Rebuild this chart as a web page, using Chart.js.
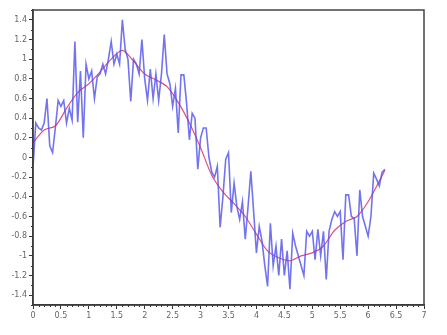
<!DOCTYPE html>
<html>
<head>
<meta charset="utf-8">
<script src="https://cdn.jsdelivr.net/npm/chart.js@4/dist/chart.umd.min.js"></script>
<style>
  html, body { margin: 0; padding: 0; background: #fff; }
  #wrap { width: 447px; height: 335px; }
</style>
</head>
<body>
<div id="wrap"><canvas id="plot"></canvas></div>
<script>
// noisy samples, x from 0 to 6.3 step 0.05
const noisyX = [
  0.00, 0.05, 0.10, 0.15, 0.20, 0.25, 0.30, 0.35, 0.40, 0.45,
  0.50, 0.55, 0.60, 0.65, 0.70, 0.75, 0.80, 0.85, 0.90, 0.95,
  1.00, 1.05, 1.10, 1.15, 1.20, 1.25, 1.30, 1.35, 1.40, 1.45,
  1.50, 1.55, 1.60, 1.65, 1.70, 1.75, 1.80, 1.85, 1.90, 1.95,
  2.00, 2.05, 2.10, 2.15, 2.20, 2.25, 2.30, 2.35, 2.40, 2.45,
  2.50, 2.55, 2.60, 2.65, 2.70, 2.75, 2.80, 2.85, 2.90, 2.95,
  3.00, 3.05, 3.10, 3.15, 3.20, 3.25, 3.30, 3.35, 3.40, 3.45,
  3.50, 3.55, 3.60, 3.65, 3.70, 3.75, 3.80, 3.85, 3.90, 3.95,
  4.00, 4.05, 4.10, 4.15, 4.20, 4.25, 4.30, 4.35, 4.40, 4.45,
  4.50, 4.55, 4.60, 4.65, 4.70, 4.75, 4.80, 4.85, 4.90, 4.95,
  5.00, 5.05, 5.10, 5.15, 5.20, 5.25, 5.30, 5.35, 5.40, 5.45,
  5.50, 5.55, 5.60, 5.65, 5.70, 5.75, 5.80, 5.85, 5.90, 5.95,
  6.00, 6.05, 6.10, 6.15, 6.20, 6.25, 6.30
];
const noisyY = [
  -0.10, 0.35, 0.30, 0.28, 0.35, 0.60, 0.12, 0.05, 0.30, 0.58,
  0.52, 0.58, 0.35, 0.50, 0.38, 1.18, 0.36, 0.88, 0.20, 0.95,
  0.80, 0.88, 0.60, 0.82, 0.85, 0.95, 0.85, 1.00, 1.18, 0.95,
  1.05, 0.95, 1.40, 1.10, 1.00, 0.57, 1.00, 0.95, 0.85, 1.20,
  0.80, 0.58, 0.90, 0.60, 0.85, 0.58, 0.85, 1.25, 0.85, 0.75,
  0.52, 0.70, 0.25, 0.84, 0.84, 0.55, 0.18, 0.45, 0.40, -0.12,
  0.20, 0.30, 0.30, 0.00, -0.15, -0.20, -0.09, -0.71, -0.40, -0.02,
  0.05, -0.56, -0.26, -0.50, -0.63, -0.45, -0.83, -0.50, -0.14, -0.55,
  -0.97, -0.70, -0.85, -1.10, -1.31, -0.67, -1.10, -0.90, -1.20, -0.83,
  -1.20, -0.95, -1.34, -0.77, -0.90, -1.00, -1.10, -1.20, -0.75, -0.80,
  -0.75, -1.04, -0.73, -1.00, -0.75, -1.24, -0.75, -0.63, -0.55, -0.60,
  -0.55, -1.04, -0.38, -0.38, -0.60, -0.62, -1.00, -0.33, -0.60, -0.70,
  -0.80, -0.60, -0.16, -0.22, -0.29, -0.15, -0.12
];

// smoothed curve
const smoothX = [0, 0.2, 0.4, 0.6, 0.8, 1.0, 1.2, 1.4, 1.6, 1.8, 2.0, 2.2, 2.4, 2.6, 2.8, 3.0, 3.2,
  3.4, 3.6, 3.8, 4.0, 4.2, 4.4, 4.6, 4.8, 5.0, 5.2, 5.4, 5.6, 5.8, 6.0, 6.2, 6.3];
const smoothY = [0.15, 0.28, 0.32, 0.50, 0.66, 0.75, 0.87, 1.00, 1.09, 0.98, 0.85, 0.79, 0.72, 0.56, 0.35, 0.10, -0.18,
  -0.35, -0.47, -0.60, -0.78, -0.95, -1.02, -1.05, -1.00, -0.97, -0.90, -0.74, -0.65, -0.60, -0.45, -0.24, -0.13];

const xTicks = [0, 0.5, 1, 1.5, 2, 2.5, 3, 3.5, 4, 4.5, 5, 5.5, 6, 6.5, 7];
const yTicks = [-1.4, -1.2, -1, -0.8, -0.6, -0.4, -0.2, 0, 0.2, 0.4, 0.6, 0.8, 1, 1.2, 1.4];

function pts(xs, ys) {
  return xs.map((x, i) => ({ x: x, y: ys[i] }));
}

function fmt(v) {
  const r = Math.round(v * 10) / 10;
  return String(r);
}

// frame + minor ticks
const framePlugin = {
  id: 'frame',
  afterDraw(chart) {
    const { ctx, chartArea: a, scales } = chart;
    ctx.save();
    ctx.strokeStyle = '#333';
    ctx.lineWidth = 1;
    ctx.beginPath();
    // minor y ticks
    for (let i = -15; i <= 15; i++) {
      const v = i / 10;
      if (Math.abs(i) % 2 === 0 && Math.abs(i) !== 15) continue;
      const py = Math.round(scales.y.getPixelForValue(v)) + 0.5;
      ctx.moveTo(a.left - 2, py);
      ctx.lineTo(a.left, py);
    }
    // minor x ticks
    for (let i = 0; i <= 70; i++) {
      if (i % 5 === 0) continue;
      const px = Math.round(scales.x.getPixelForValue(i / 10)) + 0.5;
      ctx.moveTo(px, a.bottom);
      ctx.lineTo(px, a.bottom + 2);
    }
    ctx.stroke();
    ctx.strokeStyle = '#444';
    ctx.lineWidth = 1.5;
    ctx.strokeRect(a.left, a.top, a.right - a.left, a.bottom - a.top);
    ctx.restore();
  }
};

new Chart(document.getElementById('plot'), {
  type: 'line',
  data: {
    datasets: [
      {
        data: pts(noisyX, noisyY),
        borderColor: 'rgba(80, 80, 235, 0.8)',
        borderWidth: 1.6,
        pointRadius: 0,
        tension: 0,
      },
      {
        data: pts(smoothX, smoothY),
        borderColor: '#e0507e',
        borderWidth: 1.2,
        pointRadius: 0,
        tension: 0.3,
      },
    ],
  },
  options: {
    responsive: true,
    maintainAspectRatio: false,
    animation: false,
    layout: { padding: { top: 10, right: 23, left: 0, bottom: 0 } },
    plugins: { legend: { display: false }, tooltip: { enabled: false } },
    scales: {
      x: {
        type: 'linear',
        min: 0,
        max: 7,
        afterBuildTicks: (s) => { s.ticks = xTicks.map((v) => ({ value: v })); },
        afterFit: (s) => { s.height = 30; },
        grid: { drawOnChartArea: false, tickLength: 4, color: '#333' },
        border: { color: '#222', width: 1.5 },
        ticks: { color: '#666', font: { family: 'DejaVu Sans', size: 8 }, padding: 2, maxRotation: 0, callback: (v) => fmt(v) },
      },
      y: {
        type: 'linear',
        min: -1.5,
        max: 1.5,
        afterBuildTicks: (s) => { s.ticks = yTicks.map((v) => ({ value: v })); },
        afterFit: (s) => { s.width = 33; },
        grid: { drawOnChartArea: false, tickLength: 4, color: '#333' },
        border: { color: '#222', width: 1.5 },
        ticks: { color: '#666', font: { family: 'DejaVu Sans', size: 8 }, padding: 2, callback: (v) => fmt(v) },
      },
    },
  },
  plugins: [framePlugin],
});
</script>
</body>
</html>
